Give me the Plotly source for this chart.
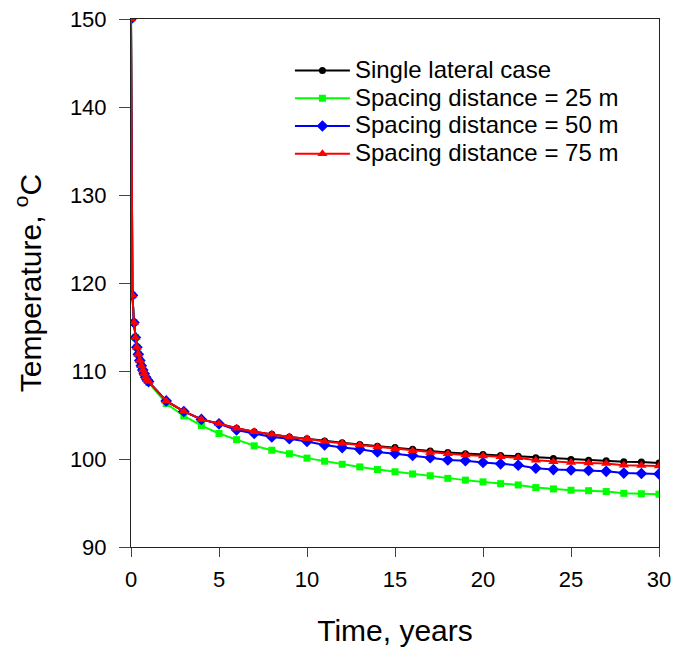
import plotly.graph_objects as go

months = [m / 12 for m in range(13)]
years = list(range(2, 31))
time = months + years

early_single = [150, 118.6, 115.5, 113.8, 112.7, 111.9, 111.2, 110.6, 110.1, 109.7, 109.3, 109.0, 108.8]
early_25 = [150, 118.6, 115.5, 113.8, 112.7, 111.9, 111.2, 110.6, 110.1, 109.7, 109.3, 109.0, 108.7]

single = early_single + [106.6, 105.4, 104.5, 104.0, 103.5, 103.1, 102.8, 102.5, 102.3, 102.05,
                         101.85, 101.65, 101.45, 101.3, 101.1, 100.9, 100.75, 100.6, 100.5, 100.4,
                         100.3, 100.15, 100.05, 99.95, 99.85, 99.8, 99.7, 99.65, 99.55]
sp25 = early_25 + [106.3, 104.9, 103.8, 102.9, 102.2, 101.5, 101.0, 100.6, 100.1, 99.75,
                   99.4, 99.1, 98.8, 98.55, 98.3, 98.1, 97.8, 97.6, 97.4, 97.2,
                   97.05, 96.75, 96.6, 96.45, 96.4, 96.3, 96.1, 96.05, 96.0]
sp50 = early_single + [106.6, 105.4, 104.5, 104.0, 103.3, 102.9, 102.5, 102.3, 102.0, 101.6,
                       101.3, 101.1, 100.8, 100.6, 100.4, 100.15, 99.9, 99.8, 99.6, 99.45,
                       99.3, 98.95, 98.8, 98.75, 98.7, 98.6, 98.4, 98.35, 98.3]
sp75 = early_single + [106.6, 105.4, 104.5, 104.0, 103.5, 103.1, 102.8, 102.5, 102.3, 102.0,
                       101.8, 101.6, 101.35, 101.15, 100.95, 100.75, 100.6, 100.45, 100.35, 100.25,
                       100.15, 99.85, 99.7, 99.6, 99.55, 99.5, 99.3, 99.25, 99.2]

names = ["Single lateral case", "Spacing distance = 25 m",
         "Spacing distance = 50 m", "Spacing distance = 75 m"]
series = [single, sp25, sp50, sp75]
colors = ["#000000", "#00ff00", "#0000ff", "#ff0000"]
symbols = ["circle", "square", "diamond", "triangle-up"]
sizes = [7, 7, 9, 9]

fig = go.Figure()
for n, s, c, sym, sz in zip(names, series, colors, symbols, sizes):
    fig.add_trace(go.Scatter(x=time, y=s, name='<span style="font-size:24px">' + n + '</span>',
                             mode="lines+markers",
                             line=dict(color=c, width=2),
                             marker=dict(color=c, symbol=sym, size=sz)))

font = "Arial, Liberation Sans, sans-serif"
fig.update_layout(
    width=688, height=647,
    margin=dict(l=131, r=29, t=19, b=100, autoexpand=False),
    plot_bgcolor="white", paper_bgcolor="white",
    font=dict(family=font, color="black", size=20),
    showlegend=True,
    legend=dict(x=0.301, y=0.938, xanchor="left", yanchor="top",
                font=dict(size=19, family=font), bgcolor="rgba(0,0,0,0)",
                itemwidth=55, tracegroupgap=0),
    xaxis=dict(range=[0, 30], tick0=0, dtick=5, ticks="outside", ticklen=9,
               ticklabelstandoff=4, automargin=False,
               showgrid=False, zeroline=False, showline=True, linecolor="#222",
               linewidth=1, mirror=True, tickfont=dict(size=22),
               title=dict(text="Time, years", font=dict(size=30), standoff=31)),
    yaxis=dict(range=[90, 150], tick0=90, dtick=10, ticks="outside", ticklen=11,
               ticklabelstandoff=8, automargin=False,
               showgrid=False, zeroline=False, showline=True, linecolor="#222",
               linewidth=1, mirror=True, tickfont=dict(size=22),
               title=dict(text="Temperature, <sup>o</sup>C", font=dict(size=30), standoff=19)),
)

fig.write_html("out.html")
